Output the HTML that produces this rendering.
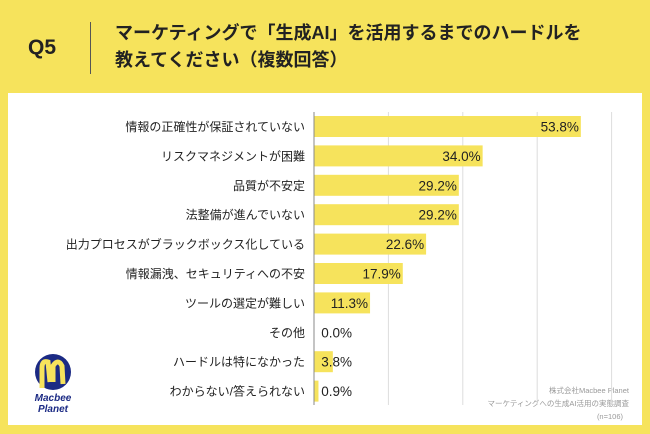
<!DOCTYPE html>
<html><head><meta charset="utf-8"><style>
body{margin:0;width:650px;height:434px;background:#F6E35C;overflow:hidden;font-family:"Liberation Sans","Noto Sans CJK JP",sans-serif;position:relative}
#panel{position:absolute;left:8px;top:93px;width:634px;height:332px;background:#fff}
#q{position:absolute;left:28px;top:36px;font-size:21px;font-weight:bold;color:#222}
#sep{position:absolute;left:90px;top:22px;width:1px;height:52px;background:#555}
#title{position:absolute;left:115px;top:20px;font-size:18px;font-weight:bold;color:#222;line-height:27px}
</style></head><body>
<div id="q">Q5</div>
<div id="sep"></div>
<div id="title">マーケティングで「生成AI」を活用するまでのハードルを<br>教えてください（複数回答）</div>
<div id="panel"></div>
<svg id="chart" width="650" height="434" style="position:absolute;left:0;top:0">
<g>
<circle cx="53" cy="372" r="18" fill="#1B2A84"/>
<path d="M42 388 L42 368 Q42 360 48 362 L50 382 M53 382 L53 366 Q58 358 62 366 L63 384" stroke="#F6E35C" stroke-width="5" fill="none"/>
<text x="53" y="401" text-anchor="middle" font-size="10" font-weight="bold" fill="#1B2A84" font-style="italic">Macbee</text>
<text x="53" y="412" text-anchor="middle" font-size="10" font-weight="bold" fill="#1B2A84" font-style="italic">Planet</text>
</g>
<g font-size="7.5" fill="#999" text-anchor="end">
<text x="629" y="393">株式会社Macbee Planet</text>
<text x="629" y="406">マーケティングへの生成AI活用の実態調査</text>
<text x="623" y="419">(n=106)</text>
</g>
</svg>
<script>
const categories=["情報の正確性が保証されていない","リスクマネジメントが困難","品質が不安定","法整備が進んでいない","出力プロセスがブラックボックス化している","情報漏洩、セキュリティへの不安","ツールの選定が難しい","その他","ハードルは特になかった","わからない/答えられない"];
const values=[53.8,34.0,29.2,29.2,22.6,17.9,11.3,0.0,3.8,0.9];
const gridTicks=[15,30,45,60];
const NS="http://www.w3.org/2000/svg";
const svg=document.getElementById('chart');
const x0=314,pxPer=4.96,yTop=112,rowH=29.4;
const xs=v=>x0+v*pxPer;
const yc=i=>yTop+14.5+i*rowH;
function mk(t,a){const e=document.createElementNS(NS,t);for(const k in a)e.setAttribute(k,a[k]);svg.appendChild(e);return e;}
gridTicks.forEach(t=>{
const g=mk('line',{x1:xs(t),x2:xs(t),y1:yTop,y2:405,stroke:'#ddd','stroke-width':1});


});
categories.forEach((c,i)=>{
const y=yc(i);
const b=mk('rect',{x:x0,y:y-10.5,width:Math.max(values[i]*pxPer,0),height:21,fill:'#F6E35C'});


const l=mk('text',{x:305,y:y+4.5,'text-anchor':'end','font-size':12,fill:'#222'});
l.textContent=c;


const vx=Math.max(xs(values[i])-2,x0+38);
const v=mk('text',{x:vx,y:y+5,'text-anchor':'end','font-size':13.5,fill:'#222'});
v.textContent=values[i].toFixed(1)+'%';


});
const ax=mk('line',{x1:x0,x2:x0,y1:yTop,y2:405,stroke:'#888','stroke-width':1});


</script>
</body></html>
